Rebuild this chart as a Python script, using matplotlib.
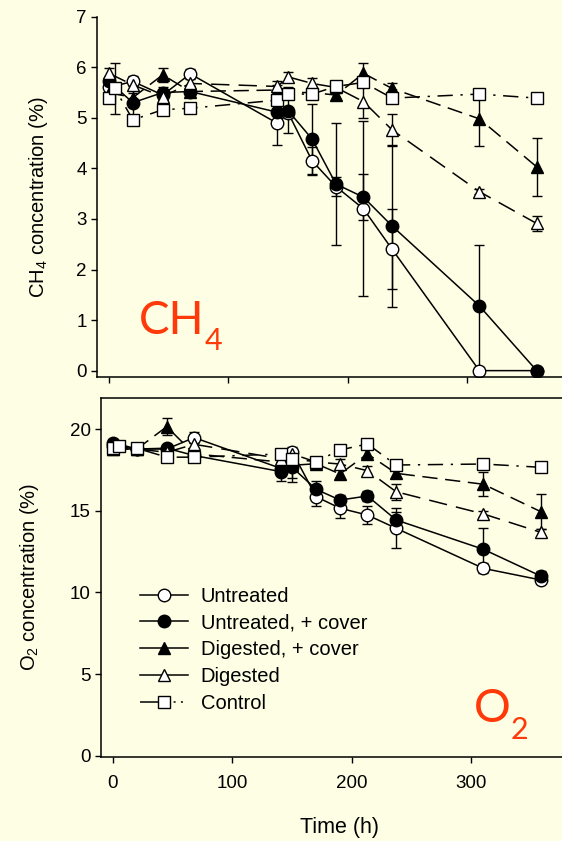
import numpy as np
import matplotlib.pyplot as plt
from matplotlib.lines import Line2D

# sampling times (h)
hours = [0, 20, 45, 68, 141, 150, 170, 190, 213, 237, 310, 358]
ctrl_hours = [0, 5, 20, 45, 68, 141, 150, 170, 190, 213, 237, 310, 358]

# CH4 concentration (%)
ch4_untreated = [5.60, 5.72, 5.45, 5.87, 4.89, 5.10, 4.15, 3.64, 3.20, 2.40, 0.0, 0.0]
ch4_untreated_err = [0.1, 0.1, 0.1, 0.1, 0.43, 0.1, 0.28, 0.19, 1.73, 0.79, 0.0, 0.0]
ch4_untr_cover = [5.72, 5.30, 5.50, 5.52, 5.11, 5.14, 4.58, 3.69, 3.43, 2.86, 1.28, 0.0]
ch4_untr_cover_err = [0.1, 0.35, 0.1, 0.1, 0.2, 0.45, 0.69, 1.2, 0.46, 1.6, 1.2, 0.0]
ch4_dig_cover = [5.50, 5.40, 5.85, 5.52, 5.55, 5.50, 5.50, 5.45, 5.88, 5.58, 4.98, 4.03]
ch4_dig_cover_err = [0.1, 0.1, 0.14, 0.1, 0.1, 0.1, 0.1, 0.1, 0.2, 0.1, 0.53, 0.58]
ch4_digested = [5.88, 5.65, 5.42, 5.68, 5.62, 5.81, 5.68, 5.60, 5.32, 4.76, 3.54, 2.91]
ch4_digested_err = [0.1, 0.1, 0.1, 0.1, 0.1, 0.1, 0.1, 0.1, 0.33, 0.32, 0.05, 0.14]
ch4_control = [5.39, 5.58, 4.96, 5.16, 5.19, 5.35, 5.47, 5.47, 5.62, 5.70, 5.39, 5.47, 5.39]
ch4_control_err = [0.1, 0.5, 0.1, 0.1, 0.05, 0.1, 0.1, 0.1, 0.05, 0.1, 0.1, 0.05, 0.05]

# O2 concentration (%)
o2_untreated = [19.0, 18.8, 18.8, 19.5, 17.6, 18.64, 15.88, 15.17, 14.75, 13.94, 11.48, 10.77]
o2_untreated_err = [0.2, 0.2, 0.2, 0.35, 0.3, 0.3, 0.6, 0.62, 0.55, 1.23, 0.3, 0.2]
o2_untr_cover = [19.2, 18.8, 18.85, 18.4, 17.41, 17.68, 16.33, 15.67, 15.92, 14.45, 12.65, 11.01]
o2_untr_cover_err = [0.2, 0.2, 0.2, 0.2, 0.6, 0.9, 0.5, 0.3, 0.3, 0.5, 1.29, 0.3]
o2_dig_cover = [18.8, 18.8, 20.17, 18.5, 18.0, 17.8, 17.9, 17.27, 18.5, 17.31, 16.64, 14.96]
o2_dig_cover_err = [0.2, 0.2, 0.52, 0.2, 0.2, 0.8, 0.3, 0.3, 0.3, 0.3, 0.73, 1.06]
o2_digested = [18.8, 18.8, 18.6, 19.09, 18.2, 18.5, 18.0, 17.88, 17.47, 16.18, 14.82, 13.69]
o2_digested_err = [0.2, 0.2, 0.2, 0.2, 0.2, 0.2, 0.3, 0.3, 0.3, 0.5, 0.2, 0.2]
o2_control = [18.85, 19.0, 18.85, 18.3, 18.3, 18.5, 18.17, 18.03, 18.74, 19.11, 17.82, 17.88, 17.68]
o2_control_err = [0.2, 0.2, 0.1, 0.1, 0.1, 0.1, 0.1, 0.1, 0.1, 0.1, 0.1, 0.1, 0.1]

labels = ["Untreated", "Untreated, + cover", "Digested, + cover", "Digested", "Control"]

BG = "#fefee4"
RED = "#ff3a0a"

plt.rcParams["font.family"] = ["Liberation Sans", "DejaVu Sans"]
plt.rcParams["mathtext.fontset"] = "custom"
plt.rcParams["mathtext.rm"] = "Liberation Sans"
plt.rcParams["mathtext.it"] = "Liberation Sans:italic"

styles = [
    dict(marker="o", mfc="white", ls="-"),
    dict(marker="o", mfc="black", ls="-"),
    dict(marker="^", mfc="black", ls=(0, (10, 5))),
    dict(marker="^", mfc="white", ls=(0, (12, 6))),
    dict(marker="s", mfc="white", ls=(0, (10, 5, 1.5, 5))),
]
msizes = [9, 9, 9, 9, 8]
legend_ls = ["-", "-", "-", "-", (0, (13, 9, 1.3, 3.5, 1.3, 12))]


def draw(ax, series):
    for (t, y, e), st, ms in zip(series, styles, msizes):
        ax.errorbar(t, y, yerr=e, color="black", lw=1.1, ecolor="black",
                    elinewidth=1.0, capsize=3.6, capthick=1.0,
                    marker=st["marker"], mfc=st["mfc"], mec="black",
                    ms=ms, mew=1.0, ls=st["ls"])


W, H = 562, 841
fig = plt.figure(figsize=(W / 100, H / 100), dpi=100, facecolor=BG)

ax1 = fig.add_axes([97 / W, 1 - 376.7 / H, 466 / W, 360 / H], facecolor=BG)
ax2 = fig.add_axes([101 / W, 1 - 756.5 / H, 466 / W, 358.5 / H], facecolor=BG)

draw(ax1, [
    (hours, ch4_untreated, ch4_untreated_err),
    (hours, ch4_untr_cover, ch4_untr_cover_err),
    (hours, ch4_dig_cover, ch4_dig_cover_err),
    (hours, ch4_digested, ch4_digested_err),
    (ctrl_hours, ch4_control, ch4_control_err),
])
draw(ax2, [
    (hours, o2_untreated, o2_untreated_err),
    (hours, o2_untr_cover, o2_untr_cover_err),
    (hours, o2_dig_cover, o2_dig_cover_err),
    (hours, o2_digested, o2_digested_err),
    (ctrl_hours, o2_control, o2_control_err),
])

for ax in (ax1, ax2):
    ax.set_xlim(-10, 380)
    ax.set_xticks([0, 100, 200, 300])
    ax.tick_params(direction="out", length=4, width=1, labelsize=13.5)
    ax.tick_params(axis="x", pad=9)
    for s in ax.spines.values():
        s.set_linewidth(1.1)
    ax.spines["right"].set_visible(False)

ax1.set_ylim(-0.12, 7.0)
ax1.set_yticks(range(8))
ax1.tick_params(axis="x", labelbottom=False)
ax1.spines["top"].set_visible(False)
ax1.set_ylabel("CH$_4$ concentration (%)", fontsize=14.5)
ax1.yaxis.set_label_coords(-0.10, 0.5)

ax2.set_ylim(-0.06, 21.93)
ax2.set_yticks([0, 5, 10, 15, 20])
ax2.set_ylabel("O$_2$ concentration (%)", fontsize=14.5)
ax2.yaxis.set_label_coords(-0.128, 0.5)
ax2.set_xlabel("Time (h)", fontsize=15.5, va="top")
ax2.xaxis.set_label_coords((340 - 101) / 466, -0.17)

handles = [
    Line2D([], [], color="black", lw=1.1, ls=lls, marker=st["marker"],
           mfc=st["mfc"], mec="black", ms=ms, mew=1.0)
    for st, ms, lls in zip(styles, msizes, legend_ls)
]
ax2.legend(handles, labels, loc="upper left",
           bbox_to_anchor=(0.084, 0.474), frameon=False,
           fontsize=14.5, handlelength=2.4, handletextpad=0.6,
           labelspacing=0.39, borderpad=0, borderaxespad=0)

t1 = ax1.text(0.09, 0.12, "CH", transform=ax1.transAxes, color=RED,
              fontsize=33, family="Lato", va="baseline")
ax1.annotate("4", xy=(1.0, 0.0), xycoords=t1, color=RED, fontsize=22,
             family="Lato", va="center", ha="left")
t2 = ax2.text(0.80, 0.095, "O", transform=ax2.transAxes, color=RED,
              fontsize=33, family="Lato", va="baseline")
ax2.annotate("2", xy=(1.0, 0.0), xycoords=t2, color=RED, fontsize=22,
             family="Lato", va="center", ha="left")

fig.savefig("out.png", dpi=100, facecolor=BG)
